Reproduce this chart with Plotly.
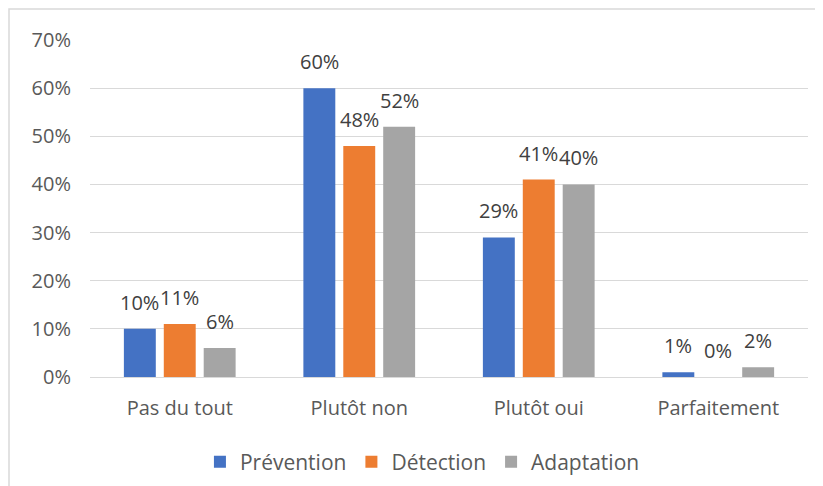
import plotly.graph_objects as go

categories = ["Pas du tout", "Plutôt non", "Plutôt oui", "Parfaitement"]
series_names = ["Prévention", "Détection", "Adaptation"]
prevention = [0.10, 0.60, 0.29, 0.01]
detection = [0.11, 0.48, 0.41, 0.00]
adaptation = [0.06, 0.52, 0.40, 0.02]
y_ticks = [0, 0.1, 0.2, 0.3, 0.4, 0.5, 0.6, 0.7]
y_tick_labels = ["0%", "10%", "20%", "30%", "40%", "50%", "60%", "70%"]

colors = ["#4472C4", "#ED7D31", "#A5A5A5"]
FONT = "Open Sans"

fig = go.Figure()
all_series = [prevention, detection, adaptation]
for name, vals, col in zip(series_names, all_series, colors):
    fig.add_trace(go.Bar(name=name, x=categories, y=vals, marker_color=col,
                         marker_line_width=0))

# data labels above bars
shifts = [-40, 0, 40]
for vals, xs in zip(all_series, shifts):
    for c, v in zip(categories, vals):
        fig.add_annotation(x=c, y=v, text=f"{round(v*100)}%", showarrow=False,
                           xshift=xs, yshift=11, yanchor="bottom",
                           font=dict(family=FONT, size=20, color="#404040"))

# page has an 8px body margin; figure coordinates are page - 8
OFF = 8
W, H = 823 - OFF, 486 - OFF
L, T, R = 90 - OFF, 40 - OFF, 823 - 808
B = H - (377 - OFF)
pw, ph = W - L - R, H - T - B
fig.add_shape(type="rect", xref="paper", yref="paper",
              x0=(9 - OFF - L) / pw, x1=1.1, y0=-0.5, y1=(H - B - (9 - OFF)) / ph,
              line=dict(color="#D9D9D9", width=1.5), fillcolor="rgba(0,0,0,0)",
              layer="below")

fig.update_layout(
    width=W, height=H,
    margin=dict(l=L, r=R, t=T, b=B, autoexpand=False),
    paper_bgcolor="white", plot_bgcolor="white",
    barmode="group", bargap=0.333, bargroupgap=0.2,
    font=dict(family=FONT, size=20, color="#595959"),
    showlegend=True,
    legend=dict(orientation="h", x=0.463, xanchor="center",
                y=(H - B - (462 - OFF)) / ph,
                yanchor="middle", font=dict(size=21, color="#595959"),
                itemwidth=30, tracegroupgap=0),
    yaxis=dict(range=[0, 0.7], tickvals=y_ticks, ticktext=y_tick_labels,
               showgrid=True, gridcolor="#D9D9D9", gridwidth=1, automargin=False,
               zeroline=False, showline=False, ticks="", ticklabelstandoff=18,
               tickfont=dict(size=20, color="#595959")),
    xaxis=dict(showline=True, linecolor="#D9D9D9", linewidth=1, ticks="",
               automargin=False,
               ticklabelstandoff=13, tickfont=dict(size=20, color="#595959")),
)

fig.write_html("out.html")
